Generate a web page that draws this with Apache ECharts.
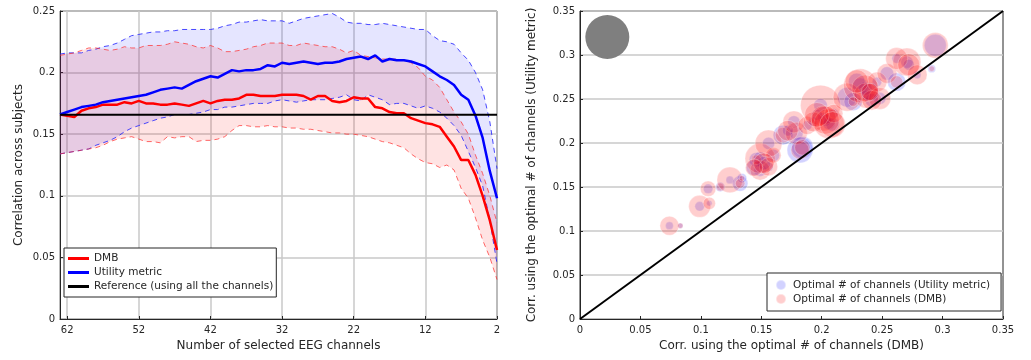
<!DOCTYPE html>
<html>
<head>
<meta charset="utf-8">
<script src="https://cdn.jsdelivr.net/npm/echarts@6.0.0/dist/echarts.min.js"></script>
<style>
  html, body { margin: 0; padding: 0; background: #fff; }
  #chart { width: 1031px; height: 360px; }
</style>
</head>
<body>
<div id="chart"></div>
<script>
// ---- left panel: correlation vs number of selected channels (63 -> 2) ----
const channels = [
  63, 62, 61, 60, 59, 58, 57, 56, 55, 54,
  53, 52, 51, 50, 49, 48, 47, 46, 45, 44,
  43, 42, 41, 40, 39, 38, 37, 36, 35, 34,
  33, 32, 31, 30, 29, 28, 27, 26, 25, 24,
  23, 22, 21, 20, 19, 18, 17, 16, 15, 14,
  13, 12, 11, 10, 9, 8, 7, 6, 5, 4,
  3, 2
];
const dmbMean = [
  0.166, 0.165, 0.164, 0.169, 0.171, 0.172, 0.174, 0.174, 0.174, 0.176,
  0.175, 0.177, 0.175, 0.175, 0.174, 0.174, 0.175, 0.174, 0.173, 0.175,
  0.177, 0.175, 0.177, 0.178, 0.178, 0.179, 0.182, 0.182, 0.181, 0.181,
  0.181, 0.182, 0.182, 0.182, 0.181, 0.178, 0.181, 0.181, 0.177, 0.176,
  0.177, 0.180, 0.179, 0.179, 0.172, 0.171, 0.168, 0.167, 0.167, 0.163,
  0.161, 0.159, 0.158, 0.156, 0.148, 0.140, 0.129, 0.129, 0.117, 0.100,
  0.080, 0.056
];
const dmbUpper = [
  0.214, 0.215, 0.216, 0.218, 0.220, 0.220, 0.219, 0.218, 0.219, 0.221,
  0.220, 0.220, 0.222, 0.222, 0.222, 0.223, 0.225, 0.224, 0.223, 0.221,
  0.220, 0.222, 0.220, 0.217, 0.217, 0.218, 0.219, 0.221, 0.222, 0.224,
  0.224, 0.224, 0.222, 0.222, 0.224, 0.223, 0.222, 0.221, 0.221, 0.219,
  0.216, 0.218, 0.214, 0.213, 0.212, 0.211, 0.211, 0.211, 0.210, 0.208,
  0.204, 0.197, 0.194, 0.188, 0.178, 0.168, 0.160, 0.150, 0.133, 0.118,
  0.100, 0.078
];
const dmbLower = [
  0.134, 0.135, 0.136, 0.137, 0.138, 0.139, 0.141, 0.144, 0.146, 0.147,
  0.148, 0.146, 0.144, 0.144, 0.143, 0.148, 0.147, 0.148, 0.148, 0.144,
  0.145, 0.145, 0.146, 0.148, 0.153, 0.157, 0.157, 0.156, 0.156, 0.157,
  0.156, 0.156, 0.155, 0.155, 0.154, 0.154, 0.153, 0.152, 0.151, 0.151,
  0.150, 0.150, 0.149, 0.148, 0.146, 0.144, 0.143, 0.141, 0.139, 0.134,
  0.130, 0.127, 0.126, 0.123, 0.125, 0.121, 0.106, 0.098, 0.082, 0.064,
  0.050, 0.032
];
const utilMean = [
  0.166, 0.168, 0.170, 0.172, 0.173, 0.174, 0.176, 0.177, 0.178, 0.179,
  0.180, 0.181, 0.182, 0.184, 0.186, 0.187, 0.188, 0.187, 0.190, 0.193,
  0.195, 0.197, 0.196, 0.199, 0.202, 0.201, 0.202, 0.202, 0.203, 0.206,
  0.205, 0.208, 0.207, 0.208, 0.209, 0.208, 0.207, 0.208, 0.208, 0.209,
  0.211, 0.212, 0.213, 0.211, 0.214, 0.209, 0.211, 0.210, 0.210, 0.209,
  0.207, 0.205, 0.201, 0.197, 0.194, 0.190, 0.182, 0.178, 0.165, 0.147,
  0.120, 0.098
];
const utilUpper = [
  0.215, 0.216, 0.216, 0.216, 0.218, 0.219, 0.221, 0.222, 0.224, 0.227,
  0.230, 0.231, 0.232, 0.233, 0.233, 0.234, 0.234, 0.235, 0.235, 0.235,
  0.235, 0.235, 0.236, 0.238, 0.239, 0.241, 0.241, 0.242, 0.243, 0.242,
  0.242, 0.242, 0.240, 0.242, 0.244, 0.245, 0.246, 0.247, 0.248, 0.245,
  0.241, 0.240, 0.240, 0.239, 0.239, 0.240, 0.239, 0.238, 0.237, 0.236,
  0.235, 0.235, 0.230, 0.226, 0.225, 0.223, 0.216, 0.210, 0.200, 0.186,
  0.160, 0.122
];
const utilLower = [
  0.134, 0.135, 0.136, 0.137, 0.138, 0.141, 0.143, 0.145, 0.148, 0.152,
  0.155, 0.157, 0.159, 0.161, 0.163, 0.164, 0.166, 0.166, 0.166, 0.167,
  0.168, 0.170, 0.170, 0.172, 0.172, 0.173, 0.174, 0.175, 0.175, 0.175,
  0.177, 0.178, 0.177, 0.176, 0.177, 0.178, 0.178, 0.178, 0.179, 0.180,
  0.182, 0.178, 0.177, 0.182, 0.180, 0.178, 0.174, 0.175, 0.175, 0.173,
  0.171, 0.173, 0.171, 0.168, 0.163, 0.157, 0.149, 0.136, 0.123, 0.108,
  0.080, 0.045
];
const referenceCorr = 0.1657;

// ---- right panel: per-subject correlation at the optimal number of channels ----
const subjDmbCorr = [
  0.074, 0.083, 0.099, 0.107, 0.106, 0.116, 0.124, 0.1325, 0.134, 0.149,
  0.146, 0.149, 0.156, 0.160, 0.156, 0.168, 0.179, 0.182, 0.177, 0.188,
  0.199, 0.193, 0.2015, 0.206, 0.210, 0.221, 0.232, 0.237, 0.226, 0.2457,
  0.248, 0.254, 0.262, 0.2705, 0.279, 0.291, 0.294, 0.262, 0.2415, 0.203,
  0.196, 0.209, 0.236, 0.229, 0.152, 0.144, 0.172, 0.272, 0.184, 0.240
];
const subjUtilCorr = [
  0.106, 0.106, 0.128, 0.1315, 0.148, 0.150, 0.158, 0.154, 0.160, 0.169,
  0.181, 0.1825, 0.173, 0.186, 0.1995, 0.209, 0.211, 0.192, 0.224, 0.220,
  0.243, 0.224, 0.228, 0.222, 0.2335, 0.252, 0.265, 0.254, 0.247, 0.2694,
  0.2506, 0.279, 0.2694, 0.292, 0.2775, 0.2845, 0.311, 0.296, 0.2486, 0.226,
  0.232, 0.221, 0.262, 0.270, 0.177, 0.172, 0.214, 0.289, 0.195, 0.258
];
const optChUtil = [
  2, 1, 3, 1, 3, 3, 2, 8, 3, 5,
  7, 6, 3, 5, 5, 13, 6, 22, 5, 3,
  6, 3, 5, 5, 3, 13, 8, 3, 11, 3,
  5, 6, 11, 5, 2, 2, 16, 3, 6, 5,
  4, 6, 6, 9, 6, 8, 4, 4, 16, 12
];
const optChDmb = [
  12, 1, 16, 5, 8, 2, 22, 3, 1, 13,
  3, 30, 11, 8, 24, 8, 16, 11, 16, 11,
  53, 13, 21, 30, 11, 26, 38, 21, 3, 13,
  16, 13, 5, 26, 13, 1, 22, 16, 13, 26,
  20, 22, 24, 18, 14, 10, 14, 16, 8, 10
];
// size key bubble (all 64 channels)
const keyPoint = [0.0226, 0.3204];
const keyChannels = 64;

const FONT = 'DejaVu Sans';
const TXT = '#262626';
const bubbleSize = (n) => 5.5 * Math.sqrt(n);

const pairs = (ys) => channels.map((c, i) => [c, ys[i]]);

const chart = echarts.init(document.getElementById('chart'), null, { renderer: 'canvas' });

const tickLabel = { color: TXT, fontFamily: FONT, fontSize: 10 };
const nameStyle = { color: TXT, fontFamily: FONT, fontSize: 12 };
const gridLine = { show: true, lineStyle: { color: '#c8c8c8', width: 1.5 } };

// shaded band between lower and upper, drawn as one polygon through the axes
function bandFill(lower, upper, fillColor) {
  return {
    type: 'custom', xAxisIndex: 0, yAxisIndex: 0, silent: true, clip: true,
    data: [0],
    renderItem: (params, api) => {
      const top = channels.map((c, i) => api.coord([c, upper[i]]));
      const bottom = channels.map((c, i) => api.coord([c, lower[i]])).reverse();
      return {
        type: 'polygon',
        shape: { points: top.concat(bottom) },
        style: { fill: fillColor, stroke: null }
      };
    }
  };
}

function dashed(values, color) {
  return {
    type: 'line', xAxisIndex: 0, yAxisIndex: 0, silent: true,
    data: pairs(values), symbol: 'none',
    lineStyle: { color: color, width: 1, type: [5, 4] }
  };
}

const option = {
  animation: false,
  backgroundColor: '#ffffff',
  textStyle: { fontFamily: FONT },
  grid: [
    { left: 60, right: 534, top: 11, bottom: 41, show: true, borderColor: TXT, borderWidth: 1, backgroundColor: 'transparent' },
    { left: 580, right: 28, top: 11, bottom: 41, show: true, borderColor: TXT, borderWidth: 1, backgroundColor: 'transparent' }
  ],
  xAxis: [
    {
      gridIndex: 0, type: 'value', inverse: true, min: 2, max: 63, interval: 10,
      name: 'Number of selected EEG channels', nameLocation: 'middle', nameGap: 21,
      nameTextStyle: nameStyle,
      axisLine: { show: true, lineStyle: { color: TXT } },
      axisTick: { show: true, inside: true, length: 3, lineStyle: { color: TXT } },
      axisLabel: Object.assign({ margin: 6, showMaxLabel: false }, tickLabel),
      splitLine: gridLine
    },
    {
      gridIndex: 1, type: 'value', min: 0, max: 0.35, interval: 0.05,
      name: 'Corr. using the optimal # of channels (DMB)', nameLocation: 'middle', nameGap: 21,
      nameTextStyle: nameStyle,
      axisLine: { show: true, lineStyle: { color: TXT } },
      axisTick: { show: true, inside: true, length: 3, lineStyle: { color: TXT } },
      axisLabel: Object.assign({ margin: 6 }, tickLabel),
      splitLine: { show: false }
    }
  ],
  yAxis: [
    {
      gridIndex: 0, type: 'value', min: 0, max: 0.25, interval: 0.05,
      name: 'Correlation across subjects', nameLocation: 'middle', nameGap: 35,
      nameTextStyle: nameStyle,
      axisLine: { show: true, lineStyle: { color: TXT } },
      axisTick: { show: true, inside: true, length: 3, lineStyle: { color: TXT } },
      axisLabel: Object.assign({ margin: 5 }, tickLabel),
      splitLine: gridLine
    },
    {
      gridIndex: 1, type: 'value', min: 0, max: 0.35, interval: 0.05,
      name: 'Corr. using the optimal # of channels (Utility metric)', nameLocation: 'middle', nameGap: 42,
      nameTextStyle: nameStyle,
      axisLine: { show: true, lineStyle: { color: TXT } },
      axisTick: { show: true, inside: true, length: 3, lineStyle: { color: TXT } },
      axisLabel: Object.assign({ margin: 5 }, tickLabel),
      splitLine: gridLine
    }
  ],
  legend: [
    {
      left: 64, top: 248, orient: 'vertical',
      itemWidth: 21, itemHeight: 3, itemGap: 3,
      padding: [5, 3, 5, 4],
      backgroundColor: '#ffffff', borderColor: TXT, borderWidth: 1, borderRadius: 0,
      textStyle: { color: TXT, fontFamily: FONT, fontSize: 10.5 },
      selectedMode: false,
      data: [
        { name: 'DMB', icon: 'rect' },
        { name: 'Utility metric', icon: 'rect' },
        { name: 'Reference (using all the channels)', icon: 'rect' }
      ]
    },
    {
      left: 767, top: 273, orient: 'vertical',
      itemWidth: 14, itemHeight: 10, itemGap: 2,
      padding: [6, 11, 6, 8],
      backgroundColor: '#ffffff', borderColor: TXT, borderWidth: 1, borderRadius: 0,
      textStyle: { color: TXT, fontFamily: FONT, fontSize: 10.5 },
      selectedMode: false,
      data: [
        { name: 'Optimal # of channels (Utility metric)', icon: 'circle' },
        { name: 'Optimal # of channels (DMB)', icon: 'circle' }
      ]
    }
  ],
  series: [
    bandFill(utilLower, utilUpper, 'rgba(0,0,255,0.10)'),
    bandFill(dmbLower, dmbUpper, 'rgba(255,0,0,0.11)'),
    dashed(utilUpper, 'rgba(40,40,255,0.85)'),
    dashed(utilLower, 'rgba(40,40,255,0.85)'),
    dashed(dmbUpper, 'rgba(255,40,40,0.7)'),
    dashed(dmbLower, 'rgba(255,40,40,0.7)'),
    {
      name: 'DMB', type: 'line', xAxisIndex: 0, yAxisIndex: 0,
      data: pairs(dmbMean), symbol: 'none',
      itemStyle: { color: '#ff0000' },
      lineStyle: { color: '#ff0000', width: 2.5 }
    },
    {
      name: 'Utility metric', type: 'line', xAxisIndex: 0, yAxisIndex: 0,
      data: pairs(utilMean), symbol: 'none',
      itemStyle: { color: '#0000ff' },
      lineStyle: { color: '#0000ff', width: 2.5 }
    },
    {
      name: 'Reference (using all the channels)', type: 'line', xAxisIndex: 0, yAxisIndex: 0,
      data: [[channels[0], referenceCorr], [channels[channels.length - 1], referenceCorr]],
      symbol: 'none',
      itemStyle: { color: '#000000' },
      lineStyle: { color: '#000000', width: 2 }
    },
    {
      type: 'scatter', xAxisIndex: 1, yAxisIndex: 1, silent: true,
      data: [[keyPoint[0], keyPoint[1], keyChannels]],
      symbolSize: (d) => bubbleSize(d[2]),
      itemStyle: { color: '#7f7f7f', opacity: 1 }
    },
    {
      name: 'Optimal # of channels (Utility metric)', type: 'scatter', xAxisIndex: 1, yAxisIndex: 1,
      data: subjDmbCorr.map((x, i) => [x, subjUtilCorr[i], optChUtil[i]]),
      symbolSize: (d) => bubbleSize(d[2]),
      itemStyle: { color: 'rgba(0,0,255,0.22)', borderColor: 'rgba(255,255,255,0.5)', borderWidth: 0.8 }
    },
    {
      name: 'Optimal # of channels (DMB)', type: 'scatter', xAxisIndex: 1, yAxisIndex: 1,
      data: subjDmbCorr.map((x, i) => [x, subjUtilCorr[i], optChDmb[i]]),
      symbolSize: (d) => bubbleSize(d[2]),
      itemStyle: { color: 'rgba(255,0,0,0.24)', borderColor: 'rgba(255,255,255,0.5)', borderWidth: 0.8 }
    },
    {
      type: 'line', xAxisIndex: 1, yAxisIndex: 1, silent: true,
      data: [[0, 0], [0.35, 0.35]], symbol: 'none',
      lineStyle: { color: '#000000', width: 2 }
    }
  ]
};

chart.setOption(option);
</script>
</body>
</html>
